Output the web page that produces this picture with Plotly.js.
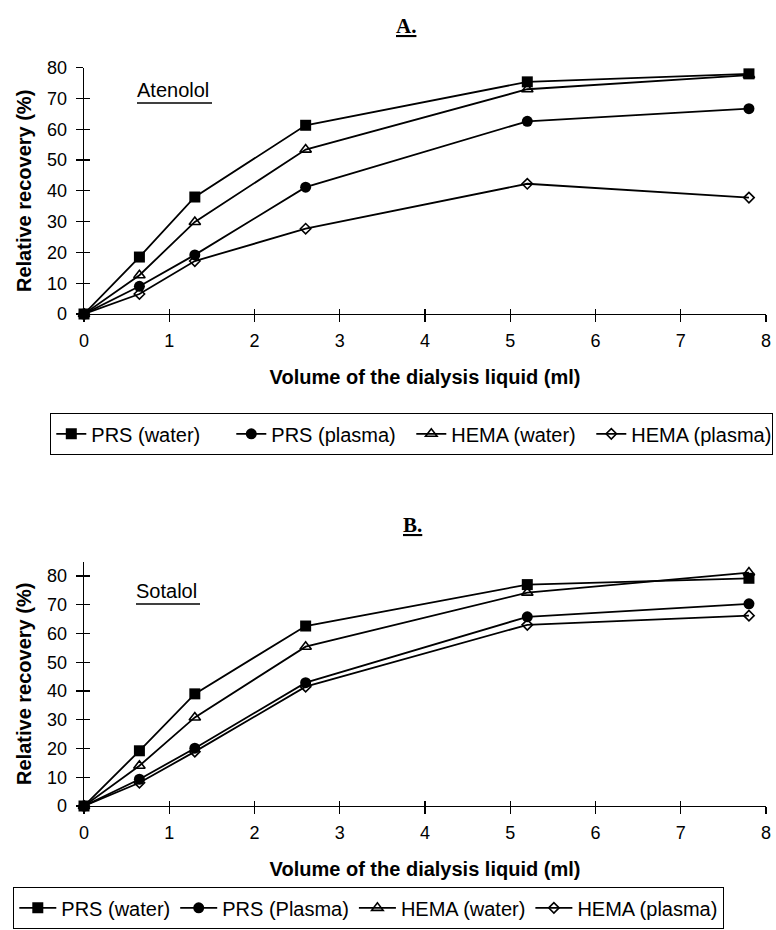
<!DOCTYPE html>
<html>
<head>
<meta charset="utf-8">
<script src="https://cdn.plot.ly/plotly-3.0.1.min.js"></script>
<style>html,body{margin:0;padding:0;background:#fff;}#chart{width:776px;height:930px;}</style>
</head>
<body>
<div id="chart"></div>
<script>
// Volume of the dialysis liquid (ml)
const volume = [0, 0.65, 1.3, 2.6, 5.2, 7.8];

// Panel A – Atenolol, relative recovery (%)
const atenololPrsWater    = [0, 18.5, 38.0, 61.3, 75.4, 78.0];
const atenololPrsPlasma   = [0, 9.0, 19.2, 41.2, 62.6, 66.7];
const atenololHemaWater   = [0, 12.6, 29.9, 53.4, 73.0, 77.6];
const atenololHemaPlasma  = [0, 6.5, 17.2, 27.7, 42.3, 37.8];

// Panel B – Sotalol, relative recovery (%)
const sotalolPrsWater     = [0, 19.2, 39.0, 62.6, 77.0, 79.2];
const sotalolPrsPlasma    = [0, 9.3, 20.1, 42.9, 65.8, 70.3];
const sotalolHemaWater    = [0, 14.0, 30.8, 55.4, 74.2, 81.2];
const sotalolHemaPlasma   = [0, 8.1, 18.9, 41.5, 63.0, 66.2];

const legendNamesA = ["PRS (water)", "PRS (plasma)", "HEMA (water)", "HEMA (plasma)"];
const legendNamesB = ["PRS (water)", "PRS (Plasma)", "HEMA (water)", "HEMA (plasma)"];
const xTicks = [0, 1, 2, 3, 4, 5, 6, 7, 8];
const yTicks = [0, 10, 20, 30, 40, 50, 60, 70, 80];

const W = 776, H = 930;
const px = v => v / W;
const py = v => (H - v) / H;

const markerStyles = [
  {symbol: "square", size: 11, color: "#000"},
  {symbol: "circle", size: 11, color: "#000"},
  {symbol: "triangle-up-open", size: 10, color: "#000", line: {color: "#000", width: 1.6}},
  {symbol: "diamond-open", size: 8, color: "#000", line: {color: "#000", width: 1.6}}
];

function series(ys, names, xa, ya, leg) {
  return ys.map((y, i) => ({
    type: "scatter", mode: "lines+markers",
    x: volume, y: y, name: names[i],
    xaxis: xa, yaxis: ya, legend: leg,
    line: {color: "#000", width: 1.8},
    marker: markerStyles[i],
    cliponaxis: false
  }));
}

const data = [].concat(
  series([atenololPrsWater, atenololPrsPlasma, atenololHemaWater, atenololHemaPlasma], legendNamesA, "x", "y", "legend"),
  series([sotalolPrsWater, sotalolPrsPlasma, sotalolHemaWater, sotalolHemaPlasma], legendNamesB, "x2", "y2", "legend2"),
  // empty helper traces to host the inside-tick overlay axes
  [{x: [], y: [], xaxis: "x3", yaxis: "y", showlegend: false, hoverinfo: "skip"},
   {x: [], y: [], xaxis: "x", yaxis: "y3", showlegend: false, hoverinfo: "skip"},
   {x: [], y: [], xaxis: "x4", yaxis: "y2", showlegend: false, hoverinfo: "skip"},
   {x: [], y: [], xaxis: "x2", yaxis: "y4", showlegend: false, hoverinfo: "skip"}]
);

const xDomain = [px(84), px(766)];
const yDomainA = [py(314), py(67.7)];
const yDomainB = [py(806), py(561.6)];

const sans = "Liberation Sans, Arial, sans-serif";

function xAxis(anchor) {
  return {
    domain: xDomain, anchor: anchor, range: [0, 8],
    tickmode: "array", tickvals: xTicks, ticktext: xTicks.map(String),
    ticks: "outside", ticklen: 7, tickwidth: 1.2, tickcolor: "#000",
    ticklabelstandoff: 3,
    showline: true, linecolor: "#000", linewidth: 1.3,
    showgrid: false, zeroline: false,
    tickfont: {family: sans, size: 18, color: "#000"},
    title: {text: "<b>Volume of the dialysis liquid (ml)</b>", font: {family: sans, size: 20, color: "#000"}, standoff: 20}
  };
}
function yAxis(anchor, domain, range) {
  return {
    domain: domain, anchor: anchor, range: range,
    tickmode: "array", tickvals: yTicks, ticktext: yTicks.map(String),
    ticks: "outside", ticklen: 7, tickwidth: 1.2, tickcolor: "#000",
    ticklabelstandoff: 5,
    showline: true, linecolor: "#000", linewidth: 1.3,
    showgrid: false, zeroline: false,
    tickfont: {family: sans, size: 18, color: "#000"},
    title: {text: "<b>Relative recovery (%)</b>", font: {family: sans, size: 20, color: "#000"}, standoff: 10}
  };
}
function xOverlay(base, anchor) {
  return {overlaying: base, matches: base, anchor: anchor, domain: xDomain, range: [0, 8],
    tickmode: "array", tickvals: xTicks, ticks: "inside", ticklen: 5, tickwidth: 1.2, tickcolor: "#000",
    showticklabels: false, showline: false, showgrid: false, zeroline: false};
}
function yOverlay(base, anchor, domain, range) {
  return {overlaying: base, matches: base, anchor: anchor, domain: domain, range: range, side: "left",
    tickmode: "array", tickvals: yTicks, ticks: "inside", ticklen: 6, tickwidth: 1.2, tickcolor: "#000",
    showticklabels: false, showline: false, showgrid: false, zeroline: false};
}

const legendCommon = {
  orientation: "h", xanchor: "left", yanchor: "top",
  bgcolor: "#fff", bordercolor: "#000", borderwidth: 1.3,
  font: {family: sans, size: 20, color: "#000"},
  itemclick: false, itemdoubleclick: false
};

const layout = {
  width: W, height: H,
  margin: {l: 0, r: 0, t: 0, b: 0},
  paper_bgcolor: "#fff", plot_bgcolor: "rgba(0,0,0,0)",
  font: {family: sans, color: "#000"},
  showlegend: true,
  xaxis: xAxis("y"),
  yaxis: yAxis("x", yDomainA, [0, 80]),
  xaxis2: xAxis("y2"),
  yaxis2: yAxis("x2", yDomainB, [0, 85]),
  xaxis3: xOverlay("x", "y"),
  yaxis3: yOverlay("y", "x", yDomainA, [0, 80]),
  xaxis4: xOverlay("x2", "y2"),
  yaxis4: yOverlay("y2", "x2", yDomainB, [0, 85]),
  legend: Object.assign({}, legendCommon, {x: px(50), y: py(413), entrywidth: 135, entrywidthmode: "pixels"}),
  legend2: Object.assign({}, legendCommon, {x: px(13), y: 0.001, yanchor: "bottom", itemwidth: 37}),
  annotations: [
    {xref: "paper", yref: "paper", x: px(406), y: py(26), xanchor: "center", yanchor: "middle",
     text: "<b><u>A.</u></b>", showarrow: false,
     font: {family: "Liberation Serif, Times New Roman, serif", size: 21, color: "#000"}},
    {xref: "paper", yref: "paper", x: px(412), y: py(525), xanchor: "center", yanchor: "middle",
     text: "<b><u>B.</u></b>", showarrow: false,
     font: {family: "Liberation Serif, Times New Roman, serif", size: 21, color: "#000"}},
    {xref: "paper", yref: "paper", x: px(135), y: py(90), xanchor: "left", yanchor: "middle",
     text: "Atenolol", showarrow: false, font: {family: sans, size: 20, color: "#000"}},
    {xref: "paper", yref: "paper", x: px(134), y: py(591), xanchor: "left", yanchor: "middle",
     text: "Sotalol", showarrow: false, font: {family: sans, size: 20, color: "#000"}}
  ],
  shapes: [
    {type: "line", xref: "paper", yref: "paper", x0: px(137), x1: px(212), y0: py(103), y1: py(103), line: {color: "#000", width: 1.3}},
    {type: "line", xref: "paper", yref: "paper", x0: px(136), x1: px(200), y0: py(604), y1: py(604), line: {color: "#000", width: 1.3}}
  ]
};

Plotly.newPlot("chart", data, layout, {staticPlot: true, displayModeBar: false});
</script>
</body>
</html>
